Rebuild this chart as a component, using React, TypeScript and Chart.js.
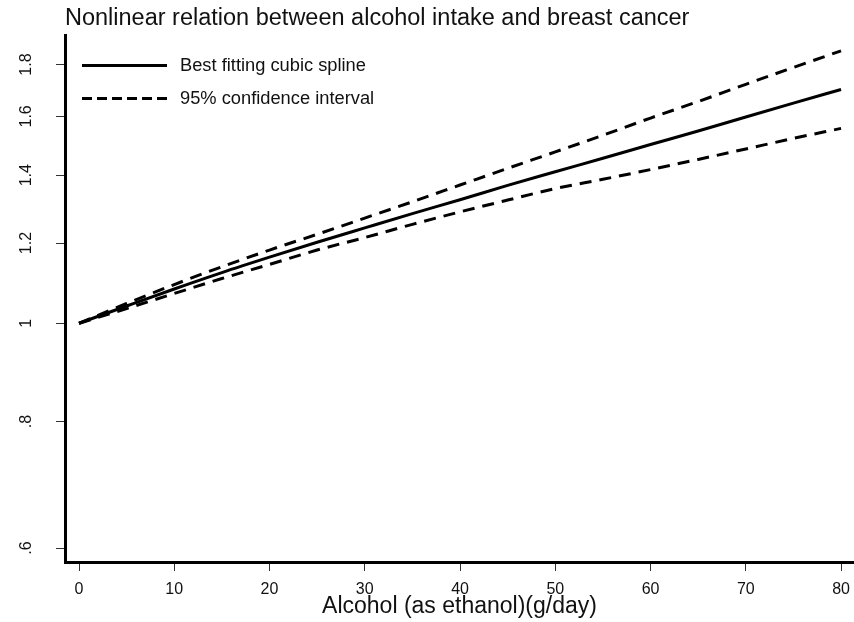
import React, { useEffect, useRef } from "react";
import { Chart, registerables } from "chart.js";

Chart.register(...registerables);

const titleText = "Nonlinear relation between alcohol intake and breast cancer";
const xTitle = "Alcohol (as ethanol)(g/day)";
const seriesLabels = ["Best fitting cubic spline", "95% confidence interval"];

const xValues = [0, 5, 10, 15, 20, 25, 30, 35, 40, 45, 50, 55, 60, 65, 70, 75, 80];
const splineRR = [1.0, 1.04, 1.081, 1.122, 1.162, 1.202, 1.242, 1.283, 1.324, 1.368, 1.411, 1.455, 1.501, 1.548, 1.598, 1.649, 1.701];
const upperRR = [1.0, 1.046, 1.092, 1.137, 1.181, 1.224, 1.27, 1.318, 1.369, 1.422, 1.476, 1.533, 1.594, 1.655, 1.721, 1.788, 1.857];
const lowerRR = [1.0, 1.034, 1.07, 1.107, 1.143, 1.181, 1.215, 1.252, 1.288, 1.323, 1.358, 1.387, 1.418, 1.451, 1.486, 1.522, 1.557];

const xTickValues = [0, 10, 20, 30, 40, 50, 60, 70, 80];
const xTickLabels = ["0", "10", "20", "30", "40", "50", "60", "70", "80"];
const yTickValues = [0.6, 0.8, 1, 1.2, 1.4, 1.6, 1.8];
const yTickLabels = [".6", ".8", "1", "1.2", "1.4", "1.6", "1.8"];

const FONT = "'Liberation Sans', Arial, sans-serif";
const CI_DASH = [12, 8];
const LEGEND_DASH = [10, 5];

const legendPlugin = {
  id: "insideLegend",
  afterDraw(chart: any) {
    const ctx = chart.ctx;
    const rows = [
      { label: seriesLabels[0], dash: [] as number[], y: 65.5 },
      { label: seriesLabels[1], dash: LEGEND_DASH, y: 98.5 },
    ];
    ctx.save();
    for (const r of rows) {
      ctx.beginPath();
      ctx.setLineDash(r.dash);
      ctx.lineWidth = 3;
      ctx.strokeStyle = "#000";
      ctx.lineCap = "butt";
      ctx.moveTo(82, r.y);
      ctx.lineTo(167, r.y);
      ctx.stroke();
      ctx.setLineDash([]);
      ctx.fillStyle = "#111";
      ctx.font = `18.3px ${FONT}`;
      ctx.textAlign = "left";
      ctx.textBaseline = "middle";
      ctx.fillText(r.label, 180, r.y + 0.5);
    }
    ctx.restore();
  },
};

export default function App() {
  const ref = useRef<HTMLCanvasElement | null>(null);
  useEffect(() => {
    if (!ref.current) return;
    const toPts = (arr: number[]) => xValues.map((x, i) => ({ x, y: arr[i] }));
    const chart = new Chart(ref.current, {
      type: "line",
      data: {
        datasets: [
          {
            label: seriesLabels[0],
            data: toPts(splineRR),
            borderColor: "#000",
            borderWidth: 3,
            pointRadius: 0,
            cubicInterpolationMode: "monotone",
            fill: false,
          },
          {
            label: seriesLabels[1],
            data: toPts(upperRR),
            borderColor: "#000",
            borderWidth: 3,
            borderDash: CI_DASH,
            pointRadius: 0,
            cubicInterpolationMode: "monotone",
            fill: false,
          },
          {
            label: seriesLabels[1],
            data: toPts(lowerRR),
            borderColor: "#000",
            borderWidth: 3,
            borderDash: CI_DASH,
            pointRadius: 0,
            cubicInterpolationMode: "monotone",
            fill: false,
          },
        ],
      },
      options: {
        animation: false,
        responsive: false,
        devicePixelRatio: 1,
        layout: { padding: 0 },
        plugins: {
          legend: { display: false },
          tooltip: { enabled: false },
          title: {
            display: true,
            text: titleText,
            align: "start",
            fullSize: false,
            color: "#111",
            font: { family: FONT, size: 23.5, weight: "normal" },
            padding: { top: 4, bottom: 2.8 },
          },
        },
        scales: {
          x: {
            type: "linear",
            min: -1.47,
            max: 81.36,
            afterBuildTicks: (scale: any) => {
              scale.ticks = xTickValues.map((v) => ({ value: v }));
            },
            afterFit: (scale: any) => {
              scale.height = 60;
              scale.paddingLeft = 0;
              scale.paddingRight = 0;
            },
            grid: {
              drawOnChartArea: false,
              drawTicks: true,
              tickLength: 9,
              color: "#333",
              lineWidth: 1,
            },
            border: { display: true, width: 3, color: "#000" },
            ticks: {
              padding: 9,
              color: "#111",
              font: { family: FONT, size: 16 },
              maxRotation: 0,
              minRotation: 0,
              callback: (_v: any, i: number) => xTickLabels[i],
            },
            title: {
              display: true,
              text: xTitle,
              color: "#111",
              font: { family: FONT, size: 23 },
              padding: { top: 0, bottom: 1.7 },
            },
          },
          y: {
            type: "logarithmic",
            min: 0.5814,
            max: 1.925,
            afterBuildTicks: (scale: any) => {
              scale.ticks = yTickValues.map((v) => ({ value: v }));
            },
            afterFit: (scale: any) => {
              scale.width = 65;
              scale.paddingTop = 0;
              scale.paddingBottom = 0;
            },
            grid: {
              drawOnChartArea: false,
              drawTicks: true,
              tickLength: 9,
              color: "#333",
              lineWidth: 1,
            },
            border: { display: true, width: 3, color: "#000" },
            ticks: {
              padding: 18,
              color: "#111",
              font: { family: FONT, size: 16 },
              minRotation: 90,
              maxRotation: 90,
              crossAlign: "center",
              autoSkip: false,
              callback: (_v: any, i: number) => yTickLabels[i],
            },
          },
        },
      },
      plugins: [legendPlugin],
    } as any);
    return () => chart.destroy();
  }, []);
  return (
    <div style={{ position: "fixed", left: 0, top: 0, width: 854, height: 622, background: "#fff" }}>
      <canvas ref={ref} width={854} height={622} />
    </div>
  );
}
